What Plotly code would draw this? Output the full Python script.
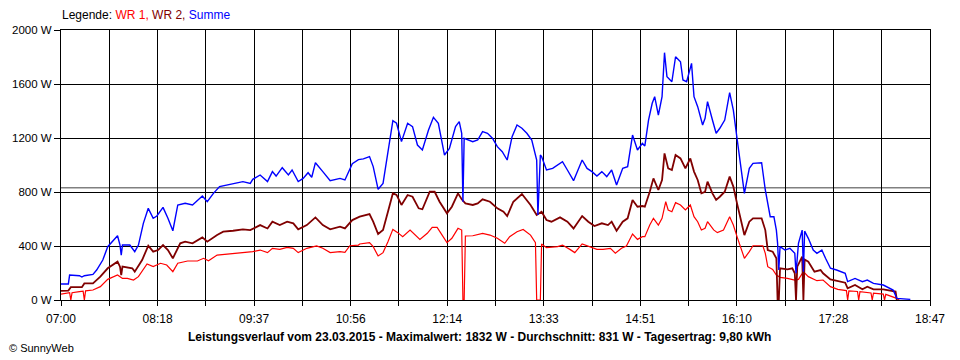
import plotly.graph_objects as go

# ---------------- data ----------------
summe_times = ["07:00","07:06","07:07","07:15","07:17","07:19","07:26","07:29","07:34","07:38","07:46","07:48","07:49","07:50",
    "07:56","08:00","08:03","08:07","08:11","08:15","08:18","08:23","08:27","08:31","08:35","08:41","08:47","08:51","08:55",
    "08:59","09:04","09:09","09:20","09:28","09:34","09:36","09:42","09:48","09:52","09:55","10:00","10:05","10:08","10:13",
    "10:17","10:21","10:24","10:27","10:33","10:39","10:47","10:51","10:57","11:02","11:06","11:11","11:14","11:18","11:22",
    "11:26","11:30","11:33","11:37","11:42","11:46","11:50","11:54","11:59","12:03","12:07","12:12","12:16","12:21","12:24",
    "12:26","12:27","12:28","12:35","12:39","12:43","12:47","12:51","12:55","12:59","13:03","13:07","13:11","13:15","13:19",
    "13:23","13:26","13:27","13:28","13:30","13:31","13:35","13:40","13:48","13:52","13:57","14:04","14:08","14:12","14:16",
    "14:20","14:24","14:28","14:32","14:37","14:41","14:45","14:49","14:53","14:55","14:58","15:01","15:03","15:06","15:09",
    "15:11","15:13","15:17","15:20","15:24","15:26","15:29","15:33","15:35","15:38","15:42","15:44","15:46","15:50","15:53",
    "15:56","16:00","16:04","16:07","16:10","16:13","16:16","16:20","16:23","16:30","16:33","16:37","16:40","16:42","16:43",
    "16:44","16:45","16:49","16:53","16:57","16:58","17:00","17:03","17:04","17:05","17:08","17:12","17:15","17:19","17:22",
    "17:26","17:31","17:38","17:40","17:46","17:52","17:56","18:01","18:09","18:17","18:20","18:31"]
summe_w = [119,119,185,180,170,180,190,222,296,395,476,407,333,407,
    407,358,407,568,679,605,622,686,605,513,704,716,704,736,770,
    728,790,840,864,877,864,894,926,877,951,918,980,926,963,877,
    901,943,909,1017,951,884,901,889,1010,1040,1045,1062,988,820,864,
    1086,1328,1309,1173,1309,1284,1148,1111,1259,1353,1309,1074,1123,1284,1321,
    1235,728,1198,1173,1185,1247,1235,1198,1136,1099,1037,1210,1296,1272,1235,
    1185,1074,1037,630,1074,1062,963,975,1025,963,884,1037,975,951,918,
    951,914,963,852,975,988,1222,1111,1160,1141,1333,1457,1506,1370,1506,
    1832,1654,1617,1802,1765,1630,1617,1753,1506,1432,1296,1346,1469,1333,1235,
    1272,1333,1536,1407,1197,988,790,975,1012,1017,815,617,617,518,420,
    222,395,370,383,346,198,420,518,210,510,457,370,346,370,309,
    235,222,198,136,160,136,148,123,111,74,12,5]

wr2_times = ["07:00","07:06","07:08","07:17","07:19","07:26","07:32","07:38","07:46","07:48","07:49","07:50","07:58","08:00",
    "08:06","08:11","08:15","08:19","08:23","08:27","08:31","08:37","08:41","08:47","08:55","08:59","09:07","09:12","09:20",
    "09:28","09:34","09:42","09:48","09:52","09:58","10:04","10:09","10:13","10:20","10:27","10:33","10:39","10:47","10:51",
    "10:57","11:02","11:03","11:11","11:14","11:18","11:22","11:26","11:30","11:33","11:37","11:42","11:46","11:51","11:54",
    "12:00","12:04","12:08","12:14","12:18","12:23","12:26","12:29","12:35","12:39","12:43","12:49","12:55","13:00","13:03",
    "13:08","13:15","13:22","13:27","13:31","13:35","13:39","13:46","13:52","13:57","14:04","14:09","14:14","14:20","14:25",
    "14:28","14:32","14:37","14:41","14:45","14:49","14:53","14:55","14:59","15:02","15:06","15:09","15:11","15:14","15:17",
    "15:20","15:24","15:28","15:32","15:35","15:38","15:41","15:44","15:46","15:50","15:53","15:56","16:00","16:04","16:07",
    "16:10","16:13","16:16","16:20","16:23","16:30","16:33","16:35","16:39","16:42","16:43","16:44","16:45","16:51","16:55",
    "16:57","16:58","16:59","17:03","17:04","17:05","17:08","17:13","17:18","17:20","17:26","17:32","17:38","17:40","17:46",
    "17:52","17:56","18:01","18:09","18:19","18:20"]
wr2_w = [67,70,95,95,123,123,173,235,284,247,185,247,235,210,
    296,402,358,370,407,370,309,420,432,420,464,432,481,506,513,
    523,518,555,530,580,555,580,568,523,555,612,555,523,543,530,
    592,617,617,637,580,489,518,654,790,778,704,778,765,679,672,
    802,802,728,642,691,790,746,716,704,716,746,728,679,654,622,
    728,785,704,630,654,592,580,612,580,530,622,580,548,568,555,
    580,513,580,605,741,691,696,691,802,901,815,889,1086,975,963,
    1074,1049,975,1049,951,889,790,802,877,790,741,765,802,914,840,
    716,593,481,580,605,605,518,370,358,309,0,0,235,227,235,
    198,0,247,321,0,300,284,210,222,198,153,143,128,86,111,
    79,99,79,79,62,0]

wr1_times = ["07:00","07:07","07:08","07:09","07:15","07:18","07:19","07:20","07:26","07:32","07:38","07:46","07:50","07:54",
    "07:59","08:03","08:10","08:15","08:21","08:26","08:31","08:35","08:43","08:51","08:56","09:00","09:07","09:15","09:26",
    "09:36","09:42","09:48","09:52","09:58","10:04","10:09","10:13","10:20","10:28","10:33","10:39","10:47","10:51","10:55",
    "11:02","11:03","11:11","11:14","11:18","11:22","11:26","11:30","11:34","11:38","11:44","11:48","11:52","11:58","12:02",
    "12:06","12:10","12:14","12:18","12:23","12:26","12:27","12:28","12:29","12:35","12:43","12:49","12:55","13:01","13:05",
    "13:11","13:16","13:22","13:26","13:27","13:30","13:31","13:35","13:44","13:48","13:54","13:58","14:04","14:09","14:16",
    "14:21","14:27","14:31","14:36","14:40","14:45","14:49","14:53","14:55","14:59","15:02","15:06","15:09","15:12","15:14",
    "15:17","15:20","15:24","15:28","15:32","15:35","15:38","15:41","15:44","15:46","15:51","15:54","15:59","16:04","16:07",
    "16:10","16:13","16:16","16:20","16:23","16:31","16:33","16:35","16:39","16:42","16:45","16:51","16:57","17:00","17:04",
    "17:08","17:15","17:20","17:26","17:32","17:39","17:40","17:41","17:48","17:49","17:50","17:59","18:00","18:01","18:09",
    "18:10","18:11","18:17","18:20","18:22"]
wr1_w = [44,54,0,54,62,65,0,68,74,99,153,185,160,160,
    148,173,267,247,272,259,210,272,289,289,309,291,333,341,351,
    358,370,351,383,375,390,383,351,383,400,383,351,358,353,402,
    407,415,425,395,326,351,432,523,499,469,518,481,449,494,538,
    538,481,425,457,531,518,0,0,474,476,494,481,457,420,469,
    506,523,481,425,0,0,415,388,395,407,375,351,415,400,375,
    375,383,346,383,400,489,449,469,469,555,605,555,605,728,667,
    654,721,704,667,704,617,580,519,531,580,519,499,519,617,555,
    469,383,309,358,402,402,346,247,227,185,168,160,148,153,210,
    173,143,148,99,79,70,0,68,63,0,62,52,0,50,44,
    0,42,25,12,0]

average_w = 831
tick_labels = ["07:00","08:18","09:37","10:56","12:14","13:33","14:51","16:10","17:28","18:47"]
y_ticks = [0, 400, 800, 1200, 1600, 2000]
title_text = "Leistungsverlauf vom 23.03.2015 - Maximalwert: 1832 W - Durchschnitt: 831 W - Tagesertrag: 9,80 kWh"

# ---------------- helpers ----------------
def to_min(s):
    h, m = s.split(":")
    return int(h) * 60 + int(m)

x_start = to_min(tick_labels[0])
x_end = to_min(tick_labels[-1])
n_int = (len(tick_labels) - 1) * 2
tickvals = [x_start + i * (x_end - x_start) / n_int for i in range(n_int + 1)]
ticktext = [tick_labels[i // 2] if i % 2 == 0 else "" for i in range(n_int + 1)]

FONT = "Liberation Sans, Arial, sans-serif"

fig = go.Figure()
fig.add_trace(go.Scatter(x=[to_min(t) for t in wr1_times], y=wr1_w, mode="lines",
                         line=dict(color="#FF0000", width=1.2), name="WR 1"))
fig.add_trace(go.Scatter(x=[to_min(t) for t in wr2_times], y=wr2_w, mode="lines",
                         line=dict(color="#800000", width=1.8), name="WR 2"))
fig.add_trace(go.Scatter(x=[to_min(t) for t in summe_times], y=summe_w, mode="lines",
                         line=dict(color="#0000FF", width=1.4), name="Summe"))

fig.add_shape(type="line", xref="paper", x0=0, x1=1, yref="y", y0=average_w, y1=average_w,
              line=dict(color="#808080", width=1.5), layer="below")

fig.update_layout(
    width=960, height=360,
    margin=dict(l=61, r=30, t=30, b=60),
    paper_bgcolor="white", plot_bgcolor="white",
    showlegend=False, hovermode=False,
    font=dict(family=FONT, size=12, color="black"),
    xaxis=dict(range=[x_start, x_end], tickvals=tickvals, ticktext=ticktext,
               showgrid=True, gridcolor="black", gridwidth=1,
               showline=True, linecolor="black", linewidth=1, mirror=True,
               ticks="outside", ticklen=5, tickcolor="black", zeroline=False,
               ticklabelstandoff=3,
               tickfont=dict(family=FONT, size=12)),
    yaxis=dict(range=[0, 2000], tickvals=y_ticks, ticktext=[f"{v} W" for v in y_ticks],
               showgrid=True, gridcolor="black", gridwidth=1,
               showline=True, linecolor="black", linewidth=1, mirror=True,
               ticks="outside", ticklen=6, tickcolor="black", zeroline=False,
               tickfont=dict(family=FONT, size=11.5)),
    annotations=[
        dict(xref="paper", yref="paper", x=-0.001, y=1.055, xanchor="left", yanchor="middle",
             showarrow=False, font=dict(family=FONT, size=12),
             text="Legende: <span style='color:#FF0000'>WR 1, </span><span style='color:#800000'>WR 2, </span>"
                  "<span style='color:#0000FF'>Summe</span>"),
        dict(xref="paper", yref="paper", x=0.4816, y=-0.137, xanchor="center", yanchor="middle",
             showarrow=False, font=dict(family=FONT, size=12), text="<b>" + title_text + "</b>"),
        dict(xref="paper", yref="paper", x=-0.0621, y=-0.178, xanchor="left", yanchor="middle",
             showarrow=False, font=dict(family=FONT, size=11), text="© SunnyWeb"),
    ],
)

fig.write_html("out.html", config={"displayModeBar": False, "staticPlot": True},
               post_script="document.body.style.margin='0px';document.body.style.overflow='hidden';")
